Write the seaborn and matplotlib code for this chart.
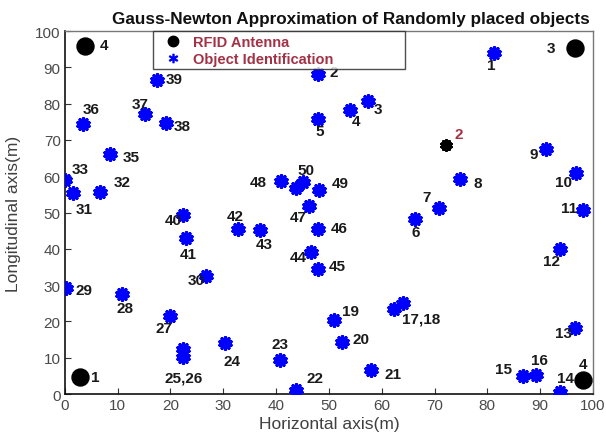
import matplotlib
matplotlib.use("Agg")
import matplotlib.pyplot as plt
from matplotlib.lines import Line2D
import seaborn as sns
import pandas as pd

# Identified objects (blue stars)
obj_x = [81.3, 47.9, 57.4, 54.0, 47.9, 66.3, 70.9, 74.8, 91.2, 96.8,
         98.2, 93.75, 96.6, 93.75, 86.8, 89.3, 62.3, 64.1, 51.0, 52.5,
         57.9, 43.75, 40.7, 30.3, 22.3, 22.3, 20.0, 10.9, 0.2, 26.8,
         1.5, 6.6, 0.0, 8.5, 3.35, 15.2, 19.1, 17.4, 22.3, 23.0,
         32.8, 36.9, 46.7, 47.9, 47.9, 46.3, 40.9, 48.1, 45.0, 43.75]
obj_y = [93.9, 88.3, 80.8, 78.3, 75.8, 48.2, 51.2, 59.2, 67.5, 60.9,
         50.7, 40.1, 18.1, 0.7, 5.0, 5.3, 23.4, 25.0, 20.5, 14.4,
         6.7, 1.2, 9.45, 14.0, 10.1, 12.4, 21.4, 27.5, 29.1, 32.6,
         55.3, 55.6, 59.0, 66.1, 74.4, 77.1, 74.8, 86.6, 49.3, 42.9,
         45.5, 45.3, 39.2, 34.4, 45.5, 51.9, 58.8, 56.2, 58.3, 56.9]
obj_labels = ["1", "2", "3", "4", "5", "6", "7", "8", "9", "10",
              "11", "12", "13", "14", "15", "16", "17,18", "", "19", "20",
              "21", "22", "23", "24", "25,26", "", "27", "28", "29", "30",
              "31", "32", "33", "35", "36", "37", "38", "39", "40", "41",
              "42", "43", "44", "45", "46", "47", "48", "49", "50", ""]
# label offsets in pixels (dx right, dy up) and horizontal alignment
obj_offsets = [(-3, -12), (16, 2), (10, -8), (6, -11), (2, -12), (1, -13), (-13, 11), (18, -4), (-13, -5), (-13, -9),
               (-14, 2), (-8, -12), (-12, -5), (6, 14), (-20, 7), (3, 15), (8, -9), (0, 0), (16, 9), (19, 3),
               (22, -4), (19, 12), (0, 16), (7, -18), (1, -20), (0, 0), (-7, -12), (3, -14), (18, -2), (-10, -4),
               (11, -16), (22, 10), (15, 11), (21, -3), (9, 15), (-5, 10), (16, -3), (17, 1), (-9, -5), (2, -16),
               (-3, 13), (5, -14), (-13, -5), (19, 3), (21, 1), (-11, -11), (-23, -1), (21, 7), (3, 12), (0, 0)]
obj_ha = ["center"] * len(obj_x)
obj_ha[16] = "left"

# RFID antennas (black circles)
ant_x = [2.8, 96.6, 3.8, 98.2]
ant_y = [4.6, 95.2, 95.8, 3.9]
ant_labels = ["1", "3", "4", "4"]
ant_offsets = [(16, 0), (-24, 0), (19, 1), (0, 16)]

# estimated reference position (black star)
ref_x = [72.2]
ref_y = [68.6]
ref_labels = ["2"]
ref_offsets = [(13, 11)]

x_ticks = list(range(0, 101, 10))
y_ticks = list(range(0, 101, 10))

sns.set_style("white")
plt.rcParams["font.family"] = ["Liberation Sans", "DejaVu Sans"]

fig = plt.figure(figsize=(6.06, 4.39), dpi=100)
ax = fig.add_axes([0.107, 0.100, 0.8715, 0.827])

asterisk = (10, 2, 0)
obj_df = pd.DataFrame({"x": obj_x, "y": obj_y})
ant_df = pd.DataFrame({"x": ant_x, "y": ant_y})
ref_df = pd.DataFrame({"x": ref_x, "y": ref_y})

sns.scatterplot(data=obj_df, x="x", y="y", ax=ax, marker=asterisk, s=68,
                color="#0000ff", linewidth=2.4, zorder=3)
sns.scatterplot(data=ant_df, x="x", y="y", ax=ax, marker="o", s=150,
                color="black", edgecolor="black", zorder=3)
sns.scatterplot(data=ref_df, x="x", y="y", ax=ax, marker=asterisk, s=50,
                color="black", linewidth=2.2, zorder=3)

label_font = dict(fontsize=11, fontweight="bold", color="#1a1a1a", va="center")
for x, y, t, (dx, dy), ha in zip(obj_x, obj_y, obj_labels, obj_offsets, obj_ha):
    if t:
        ax.annotate(t, (x, y), xytext=(dx, dy), textcoords="offset pixels", ha=ha, **label_font)
for x, y, t, (dx, dy) in zip(ant_x, ant_y, ant_labels, ant_offsets):
    ax.annotate(t, (x, y), xytext=(dx, dy), textcoords="offset pixels", ha="center", **label_font)
for x, y, t, (dx, dy) in zip(ref_x, ref_y, ref_labels, ref_offsets):
    ax.annotate(t, (x, y), xytext=(dx, dy), textcoords="offset pixels", ha="center",
                fontsize=11, fontweight="bold", color="#a33246", va="center")

ax.set_xlim(0, 100)
ax.set_ylim(0, 100)
ax.set_xticks(x_ticks)
ax.set_yticks(y_ticks)
ax.tick_params(direction="in", length=4, width=0.8, labelsize=11, labelcolor="#4a4a4a",
               bottom=True, left=True, color="#333333", pad=3)
ax.set_xlabel("Horizontal axis(m)", fontsize=12.5, color="#404040", labelpad=3)
ax.set_ylabel("Longitudinal axis(m)", fontsize=12.5, color="#404040", labelpad=10)
ax.set_title("Gauss-Newton Approximation of Randomly placed objects",
             fontsize=12.3, fontweight="bold", color="#111111", pad=6, x=0.542)

for side in ["left", "bottom"]:
    ax.spines[side].set_color("#111111")
    ax.spines[side].set_linewidth(1.2)
for side in ["top", "right"]:
    ax.spines[side].set_color("#777777")
    ax.spines[side].set_linewidth(1.0)

handles = [
    Line2D([], [], linestyle="none", marker="o", markersize=7.5, color="black"),
    Line2D([], [], linestyle="none", marker="$*$", markersize=6, color="#0000ff"),
]
leg = ax.legend(handles, ["RFID Antenna", "Object Identification"],
                loc="upper left", bbox_to_anchor=(0.167, 0.92, 0.477, 0.08),
                mode="expand", borderaxespad=0, frameon=True, fancybox=False,
                handlelength=2.2, handletextpad=0.3, labelspacing=0.2,
                borderpad=0.25, prop={"weight": "bold", "size": 10.5},
                labelcolor="#a33246")
leg.get_frame().set_edgecolor("#222222")
leg.get_frame().set_linewidth(1.0)

fig.savefig("out.png", dpi=100)
